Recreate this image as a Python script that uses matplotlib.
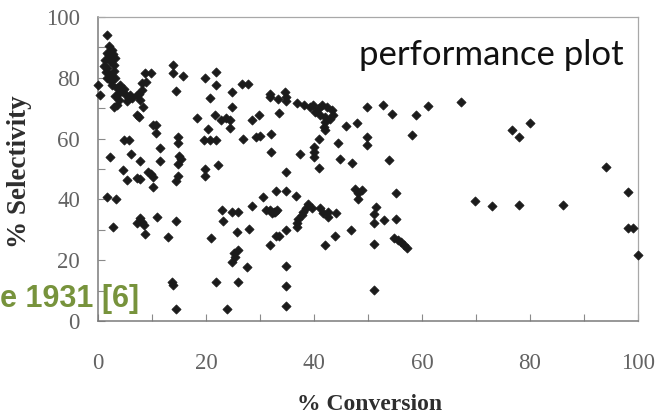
import matplotlib
matplotlib.use("Agg")
import matplotlib.pyplot as plt
from matplotlib.ticker import MultipleLocator

# Conversion (%) and selectivity (%) of each run
conversion = [
    # low-conversion cluster
    1.7, 2.6, 1.7, 1.35, 2.3, 3.2, 2.9, 1.7, 2.3, 1.7, 3.2, 2.6, 3.5, 3.8, 4.4,
    5.1, 5.7, 6.3, 7.2, 7.8, 3.2, 3.8, 0.0, 0.4, 3.0, 3.6, 1.2, 2.0, 2.8, 3.0,
    2.4, 4.0, 4.8, 5.3, 6.0, 2.0, 1.4,
    # 0-16 % conversion
    7.6, 8.2, 8.1, 8.9, 8.7, 9.9, 8.3, 7.2, 7.5, 10.2, 10.8, 10.7, 4.8, 5.8,
    2.2, 6.2, 7.8, 11.4, 11.4, 4.7, 5.3, 7.2, 7.8, 9.2, 9.9, 10.2, 10.1, 1.6,
    3.4, 13.8, 13.8, 15.8, 14.4, 14.9, 14.9, 15.0, 15.3, 14.8, 14.8, 14.4,
    # 18-41 % conversion, upper half
    19.8, 21.8, 21.9, 20.7, 18.4, 20.4, 19.7, 20.8, 21.9, 21.6, 22.8, 23.7,
    24.4, 24.4, 24.9, 24.9, 26.7, 27.8, 28.5, 29.9, 26.9, 29.3, 30.0, 31.9,
    31.9, 33.3, 32.1, 32.0, 33.6, 34.7, 34.9, 34.8, 34.8, 37.4, 40.0, 40.0,
    40.0, 41.0, 41.0, 33.0, 34.8, 36.7, 30.5, 19.8, 19.8, 22.3,
    # 36-44 % conversion band
    36.9, 38.1, 39.3, 39.9, 40.9, 41.5, 42.4, 43.3, 43.6, 43.0, 42.1, 41.8,
    42.1, 40.2, 41.2, 42.1,
    # 44-100 % conversion, upper half
    45.9, 48.0, 44.5, 44.9, 47.0, 49.9, 52.7, 54.4, 49.9, 49.9, 53.9, 58.9,
    61.2, 58.1, 67.2, 76.6, 78.0, 80.0, 94.1,
    # high conversion, lower half
    98.1, 98.1, 99.0, 100.0, 69.9, 72.9, 78.0, 86.1,
    # 42-58 % conversion, lower half
    42.5, 44.1, 43.8, 42.1, 46.9, 47.5, 48.9, 48.1, 48.1, 51.5, 51.1, 51.1,
    53.0, 55.2, 51.2, 54.9, 55.5, 56.1, 56.6, 57.2, 51.1, 55.1,
    # 31-44 % conversion, lower half
    31.9, 32.5, 33.1, 31.2, 32.2, 32.8, 38.9, 39.6, 38.5, 38.0, 37.7, 37.1,
    36.8, 36.8, 41.1, 41.7, 42.6, 34.8, 33.0, 33.6, 31.9, 34.9, 34.9, 34.9,
    # 0-30 % conversion, lower half
    2.8, 7.2, 7.8, 8.1, 8.5, 8.7, 10.9, 12.9, 14.4, 13.7, 13.9, 14.4, 20.9,
    21.9, 23.9, 22.9, 23.1, 24.9, 26.0, 25.7, 25.1, 25.4, 24.9, 26.0, 27.5,
    26.0, 28.0, 28.5,
]

selectivity = [
    94.0, 89.2, 88.2, 86.0, 85.4, 86.5, 84.3, 83.2, 81.0, 79.9, 79.9, 77.7,
    76.6, 75.0, 75.6, 74.4, 73.4, 73.4, 74.4, 72.8, 73.9, 72.8, 77.7, 74.4,
    70.5, 71.2, 84.0, 87.5, 87.8, 82.3, 79.0, 77.5, 76.2, 72.5, 74.5, 90.5,
    82.0,
    74.6, 76.0, 78.3, 78.5, 81.5, 81.5, 70.3, 67.8, 67.0, 64.5, 64.5, 62.0,
    59.5, 59.5, 54.0, 55.0, 52.7, 56.8, 52.7, 49.7, 46.4, 47.2, 46.6, 49.1,
    48.4, 47.5, 44.0, 40.7, 40.0, 84.2, 81.5, 80.6, 75.8, 60.6, 58.5, 54.3,
    53.3, 51.6, 47.8, 46.1,
    79.8, 82.0, 77.6, 73.2, 66.7, 63.0, 59.5, 59.5, 59.5, 67.6, 66.1, 66.7,
    66.1, 63.4, 75.2, 70.3, 78.0, 78.0, 66.2, 67.6, 59.8, 60.6, 60.9, 74.8,
    73.6, 73.0, 61.5, 55.7, 68.3, 75.2, 73.8, 72.3, 49.1, 54.9, 54.0, 55.7,
    57.3, 50.3, 59.9, 42.9, 42.9, 41.1, 40.9, 49.9, 47.6, 51.4,
    71.8, 71.0, 70.4, 71.0, 70.1, 71.0, 70.4, 69.3, 67.7, 66.5, 65.5, 63.8,
    62.7, 68.8, 67.7, 67.0,
    64.1, 65.0, 58.5, 53.2, 51.9, 70.5, 71.1, 68.1, 60.5, 58.0, 53.1, 67.6,
    70.6, 61.2, 72.0, 62.8, 60.6, 65.2, 50.6,
    42.5, 30.7, 30.7, 21.7, 39.5, 37.9, 38.0, 38.3,
    36.0, 35.4, 28.0, 25.1, 30.0, 43.3, 43.1, 42.2, 40.2, 37.6, 35.2, 32.1,
    33.1, 33.6, 25.2, 27.3, 26.6, 26.0, 25.0, 24.1, 10.2, 42.2,
    36.5, 36.0, 36.5, 36.5, 35.4, 36.0, 38.4, 37.3, 37.1, 36.0, 34.9, 33.6,
    32.1, 31.0, 37.1, 35.4, 34.3, 29.9, 28.1, 28.1, 25.0, 18.2, 11.6, 5.0,
    31.0, 32.1, 33.8, 32.7, 31.6, 28.5, 34.3, 27.7, 32.9, 12.9, 11.8, 3.8,
    27.4, 12.9, 3.9, 36.5, 32.9, 35.7, 35.7, 29.4, 22.3, 21.2, 19.5, 23.2,
    17.9, 12.9, 30.3, 37.8,
]

x_ticks = [0, 20, 40, 60, 80, 100]
y_ticks = [0, 20, 40, 60, 80, 100]

W, H = 656, 417
fig = plt.figure(figsize=(W / 100, H / 100), dpi=100)
ax = fig.add_axes([98 / W, 96 / H, 540 / W, 304 / H])

ax.scatter(conversion, selectivity, marker="D", s=22, c="#1b1b1b",
           linewidths=0.5, edgecolors="#1b1b1b", clip_on=False, zorder=3)

ax.set_xlim(0, 100)
ax.set_ylim(0, 100)
ax.set_xticks(x_ticks)
ax.set_yticks(y_ticks)
ax.xaxis.set_minor_locator(MultipleLocator(10))
ax.yaxis.set_minor_locator(MultipleLocator(10))

tick_font = dict(family="Liberation Serif", size=16.5)
ax.set_xticklabels([str(v) for v in x_ticks], color="#636363", **tick_font)
ax.set_yticklabels([str(v) for v in y_ticks], color="#636363", **tick_font)
ax.tick_params(axis="both", which="both", direction="in", length=5,
               width=0.8, color="#8a8a8a")
ax.tick_params(axis="x", which="major", pad=23)
ax.tick_params(axis="y", which="major", pad=13)

for side in ("left", "bottom"):
    ax.spines[side].set_color("#7a7a7a")
    ax.spines[side].set_linewidth(1.1)
for side in ("top", "right"):
    ax.spines[side].set_color("#a8a8a8")
    ax.spines[side].set_linewidth(0.9)

fig.text(370 / W, 1 - 405 / H, "% Conversion", ha="center", va="center",
         family="Liberation Serif", weight="bold", size=17, color="#2e2e2e")
fig.text(20 / W, 1 - 172 / H, "% Selectivity", ha="center", va="center",
         rotation=90, family="Liberation Serif", weight="bold", size=19.5,
         color="#2e2e2e")

fig.text(624 / W, 1 - 55 / H, "performance plot", ha="right", va="center",
         family="Lato", size=25, color="#111111")

fig.text(0, 1 - 307 / H, "e 1931 [6]", ha="left", va="baseline",
         family="Liberation Sans", weight="bold", size=22, color="#77933C")

fig.savefig("out.png", dpi=100)
